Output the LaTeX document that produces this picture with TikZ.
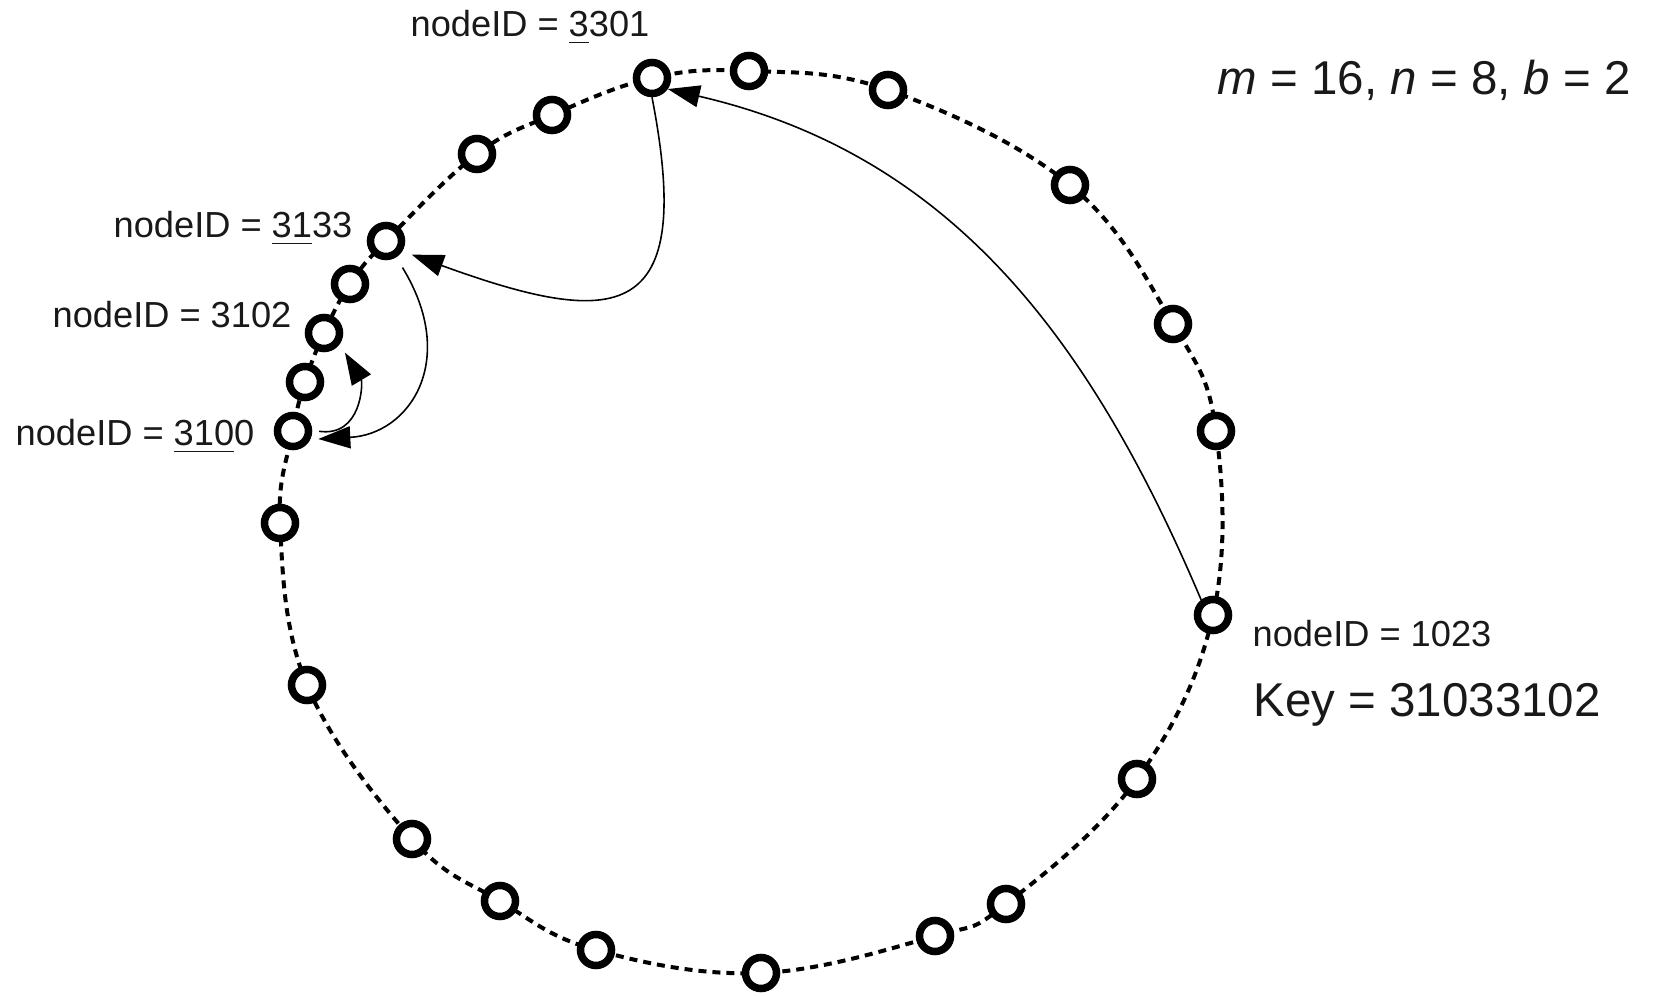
\documentclass[tikz,border=0pt]{standalone}
\usepackage{fontspec}
\setmainfont{Liberation Sans}
\usetikzlibrary{arrows.meta}
\begin{document}
\begin{tikzpicture}[x=0.01cm,y=0.01cm,
  ring/.style={circle,draw=black,line width=0.075cm,fill=white,minimum size=0.31cm,inner sep=0pt},
  ringline/.style={line width=0.04cm,dash pattern=on 0.08cm off 0.06cm},
  link/.style={line width=0.45pt,-{Triangle[length=0.32cm,width=0.22cm]}},
  lbl/.style={inner sep=0pt,anchor=base west,font=\fontsize{10.3}{12}\selectfont,text=black!90},
  big/.style={inner sep=0pt,anchor=base west,font=\fontsize{13.5}{16}\selectfont,text=black!90}]
\useasboundingbox (0,0) rectangle (1659,-997);
\foreach \x/\y [count=\i] in {652/-78,749/-71,888/-90,1070/-185,1173/-324,1216/-431,1213/-615,1137/-779,1006/-904,935/-936,761/-973,596/-950,500/-901,412/-839,307/-685,280/-523,293/-431,305/-382,324/-333,350/-284,386/-241,477/-154,552/-115}
  \coordinate (p\i) at (\x,\y);
\draw[ringline] plot[smooth cycle,tension=0.65] coordinates {(p1) (p2) (p3) (p4) (p5) (p6) (p7) (p8) (p9) (p10) (p11) (p12) (p13) (p14) (p15) (p16) (p17) (p18) (p19) (p20) (p21) (p22) (p23)};
\foreach \i in {1,...,23} \node[ring] (n\i) at (p\i) {};
% labels
\node[lbl] (t1) at (410,-37) {nodeID = \underline{3}301};
\node[lbl] (t21) at (113,-238) {nodeID = \underline{31}33};
\node[lbl] (t19) at (52,-328) {nodeID = 3102};
\node[lbl] (t17) at (15,-446) {nodeID = \underline{310}0};
\node[lbl] (t7) at (1252,-647) {nodeID = 1023};
\node[big] (key) at (1253,-717) {Key = 31033102};
\node[big] (par) at (1217,-95) {\textit{m} = 16, \textit{n} = 8, \textit{b} = 2};
% routing arrows
\draw[link] (n7.128) to[out=113,in=-13,out distance=2.88cm,in distance=2.88cm] (n1.-35);
\draw[link,shorten >=0.1cm] (n1.270) to[out=281,in=340,out distance=2.3cm,in distance=2.3cm] (n21.-32);
\draw[link,shorten <=0.12cm,shorten >=0.08cm] (n21.-58) to[out=301.5,in=3,out distance=1.2cm,in distance=1.0cm] (n17.-26);
\draw[link,shorten <=0.07cm,shorten >=0.1cm] (n17.2) to[out=-8,in=301,out distance=0.5cm,in distance=0.45cm] (n19.-35);
\end{tikzpicture}
\end{document}
